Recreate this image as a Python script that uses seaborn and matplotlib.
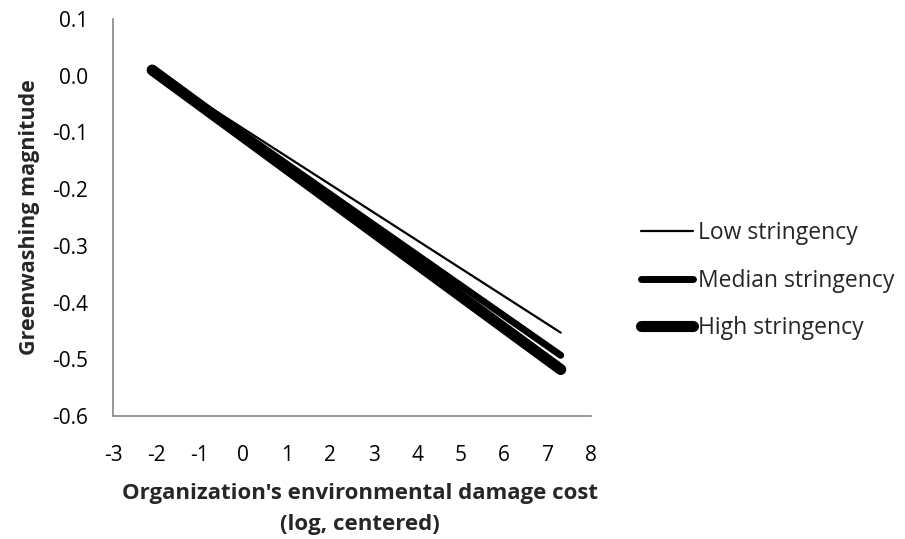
import matplotlib
matplotlib.use("Agg")
import matplotlib.pyplot as plt
import seaborn as sns
import pandas as pd
from matplotlib.lines import Line2D

sns.set_theme(style="white")
plt.rcParams['font.family'] = ['Open Sans', 'DejaVu Sans']

groups = ["Low stringency", "Median stringency", "High stringency"]
x_start = [-2.1, -2.1, -2.1]
x_end = [7.3, 7.3, 7.3]
y_start = [0.01, 0.01, 0.01]
y_end = [-0.453, -0.493, -0.518]
x_ticks = [-3, -2, -1, 0, 1, 2, 3, 4, 5, 6, 7, 8]
y_ticks = [-0.6, -0.5, -0.4, -0.3, -0.2, -0.1, 0.0, 0.1]

rows = []
for g, xs, xe, ys, ye in zip(groups, x_start, x_end, y_start, y_end):
    rows.append({"group": g, "x": xs, "y": ys})
    rows.append({"group": g, "x": xe, "y": ye})
df = pd.DataFrame(rows)

widths = {"Low stringency": 1.6, "Median stringency": 5.0, "High stringency": 8.0}

fig = plt.figure(figsize=(9.05, 5.39), dpi=100)
ax = fig.add_axes([0.1249, 0.2282, 0.5283, 0.7365])

for g in groups[::-1]:
    sub = df[df["group"] == g]
    sns.lineplot(data=sub, x="x", y="y", ax=ax, color="black",
                 linewidth=widths[g], solid_capstyle="round", legend=False)

ax.set_xlim(-3, 8)
ax.set_ylim(-0.6, 0.1)
ax.set_xticks(x_ticks)
ax.set_xticklabels([str(v) for v in x_ticks])
ax.set_yticks(y_ticks)
ax.set_yticklabels([f"{v:.1f}" for v in y_ticks])
for s in ["top", "right"]:
    ax.spines[s].set_visible(False)
for s in ["left", "bottom"]:
    ax.spines[s].set_color("#868686")
    ax.spines[s].set_linewidth(1.2)
ax.tick_params(axis="both", which="both", direction="out", length=6, width=1.2,
               color="#868686", labelsize=15, labelcolor="black")
ax.tick_params(axis="y", pad=12)
ax.tick_params(axis="x", pad=15)
ax.grid(False)

ax.set_xlabel("Organization's environmental damage cost\n(log, centered)",
              fontsize=16, fontweight="bold", labelpad=12, linespacing=1.62)
ax.xaxis.label.set_x(0.517)
ax.set_ylabel("Greenwashing magnitude", fontsize=15.5, fontweight="bold", labelpad=9)

handles = [Line2D([0], [0], color="black", lw=widths[g], solid_capstyle="round") for g in groups]
fig.legend(handles, groups, loc="center left", bbox_to_anchor=(0.708, 0.479),
           frameon=False, fontsize=16.5, handlelength=2.3, handletextpad=0.2,
           labelspacing=1.03, borderpad=0, borderaxespad=0)

fig.savefig("out.png", dpi=100, facecolor="white")
